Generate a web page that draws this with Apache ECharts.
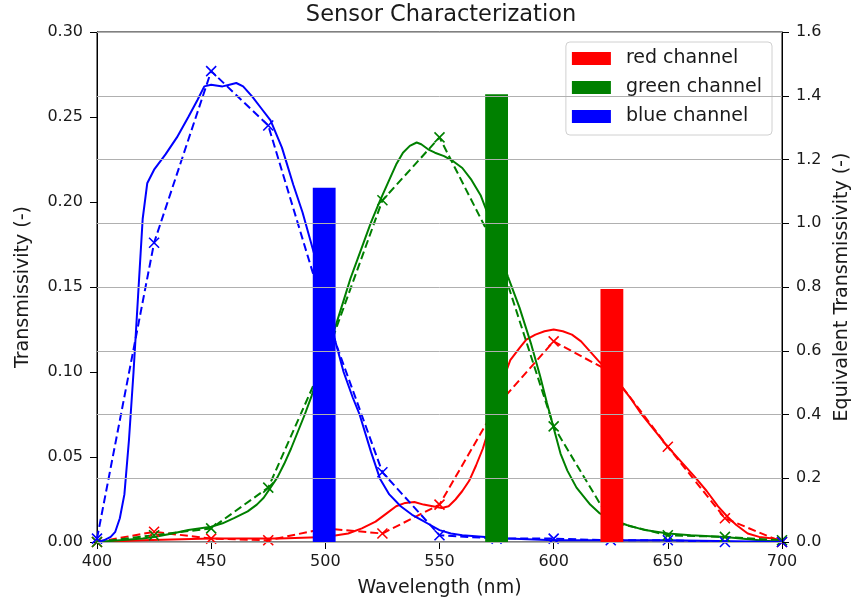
<!DOCTYPE html>
<html>
<head>
<meta charset="utf-8">
<script src="https://cdn.jsdelivr.net/npm/echarts@6/dist/echarts.min.js"></script>
<style>
html,body{margin:0;padding:0;background:#fff;overflow:hidden;}
#chart{width:854px;height:609px;}
</style>
</head>
<body>
<div id="chart"></div>
<script>
// ---- data ----
var markerWavelengths = [400, 425, 450, 475, 500, 525, 550, 575, 600, 625, 650, 675, 700];
var redSampled   = [0.000, 0.006, 0.002, 0.001, 0.008, 0.005, 0.022, 0.080, 0.118, 0.100, 0.056, 0.014, 0.000];
var greenSampled = [0.000, 0.004, 0.008, 0.032, 0.108, 0.201, 0.238, 0.172, 0.068, 0.012, 0.004, 0.003, 0.001];
var blueSampled  = [0.002, 0.176, 0.277, 0.245, 0.134, 0.041, 0.004, 0.002, 0.002, 0.001, 0.001, 0.000, 0.000];

var blueWl = [400,403,406,408,410,412,414,416,418,420,422,425,430,435,440,444,447,450,455,458,461,464,468,472,476,481,486,490,495,500,504,508,512,515,520,524,528,533,538,542,546,550,555,560,570,580,600,650,700];
var blueCurve = [0.000,0.001,0.003,0.006,0.014,0.028,0.060,0.100,0.145,0.190,0.211,0.219,0.228,0.238,0.250,0.260,0.268,0.269,0.268,0.269,0.270,0.268,0.262,0.255,0.248,0.232,0.210,0.194,0.170,0.143,0.120,0.100,0.085,0.075,0.053,0.037,0.028,0.021,0.016,0.013,0.010,0.007,0.005,0.004,0.003,0.002,0.001,0.001,0.000];

var greenWl = [400,410,420,425,433,440,450,455,460,466,470,473,476,479,482,485,488,491,494,497,500,504,508,511,514,517,520,524,528,531,534,537,540,542,545,548,552,556,560,564,568,572,576,580,585,590,594,597,600,603,606,610,616,620,626,632,640,650,660,675,690,700];
var greenCurve = [0.000,0.001,0.002,0.003,0.005,0.007,0.009,0.011,0.014,0.018,0.022,0.026,0.032,0.038,0.046,0.055,0.065,0.075,0.086,0.098,0.108,0.125,0.142,0.155,0.166,0.177,0.188,0.201,0.213,0.222,0.229,0.233,0.235,0.234,0.231,0.229,0.227,0.224,0.220,0.213,0.204,0.190,0.172,0.156,0.138,0.117,0.098,0.082,0.067,0.052,0.042,0.032,0.022,0.017,0.013,0.010,0.007,0.005,0.004,0.003,0.001,0.000];

var redWl = [400,420,450,480,500,505,510,516,522,527,531,535,539,543,547,551,554,557,560,563,566,569,572,575,578,581,585,588,592,596,600,604,608,612,616,620,625,630,634,638,644,650,656,662,667,672,676,680,685,690,696,700];
var redCurve = [0.000,0.001,0.002,0.002,0.003,0.004,0.005,0.008,0.012,0.017,0.021,0.023,0.0235,0.022,0.021,0.020,0.021,0.025,0.030,0.036,0.045,0.055,0.068,0.082,0.096,0.107,0.114,0.119,0.122,0.124,0.125,0.124,0.122,0.118,0.112,0.106,0.099,0.091,0.084,0.076,0.066,0.056,0.047,0.038,0.030,0.021,0.015,0.010,0.005,0.003,0.002,0.001];

var channelNames = ['red channel', 'green channel', 'blue channel'];
var channelColors = ['#ff0000', '#008000', '#0000ff'];
var barWavelengths = [625.5, 575, 499.5];
var barValues = [0.794, 1.405, 1.111];
var barWidthNm = 10;

var leftTicks = {min: 0, max: 0.30, interval: 0.05};
var rightTicks = {min: 0, max: 1.6, interval: 0.2};
var xTicks = {min: 400, max: 700, interval: 50};

function pairs(xs, ys){ return xs.map(function(x,i){ return [x, ys[i]]; }); }

var crossPath = 'path://M0,0L10,10M10,0L0,10';
var txt = '#1a1a1a';
var fontFam = 'DejaVu Sans';

var series = [];
var curves = [[redWl, redCurve],[greenWl, greenCurve],[blueWl, blueCurve]];
var sampled = [redSampled, greenSampled, blueSampled];
for (var i = 0; i < 3; i++) {
  series.push({
    type: 'line', name: channelNames[i] + ' curve', xAxisIndex: 0, yAxisIndex: 0,
    data: pairs(curves[i][0], curves[i][1]), showSymbol: false, symbol: 'none',
    lineStyle: {color: channelColors[i], width: 2}, z: 2, silent: true, animation: false
  });
  series.push({
    type: 'line', name: channelNames[i] + ' sampled', xAxisIndex: 0, yAxisIndex: 0,
    data: pairs(markerWavelengths, sampled[i]), symbol: crossPath, symbolSize: 10,
    showSymbol: true,
    itemStyle: {color: 'rgba(0,0,0,0)', borderColor: channelColors[i], borderWidth: 1.6},
    lineStyle: {color: channelColors[i], width: 2, type: [8, 4]}, z: 2, silent: true, animation: false
  });
}
function makeBarRenderer(color) {
  return function(params, api) {
    var x = api.value(0), v = api.value(1);
    var base = api.coord([x, 0]);
    var top = api.coord([x, v]);
    var w = api.size([barWidthNm, 0])[0];
    return {
      type: 'rect',
      shape: {x: base[0] - w / 2, y: top[1], width: w, height: base[1] - top[1]},
      style: {fill: color}
    };
  };
}
for (var j = 0; j < 3; j++) {
  series.push({
    type: 'custom', name: channelNames[j], xAxisIndex: 0, yAxisIndex: 1,
    data: [[barWavelengths[j], barValues[j]]],
    renderItem: makeBarRenderer(channelColors[j]),
    itemStyle: {color: channelColors[j]}, z: 3, animation: false,
    encode: {x: 0, y: 1}
  });
}

var chart = echarts.init(document.getElementById('chart'), null, {renderer: 'canvas'});
chart.setOption({
  animation: false,
  backgroundColor: '#ffffff',
  title: {
    text: 'Sensor Characterization', left: 436, top: -1, textAlign: 'center',
    textStyle: {fontFamily: fontFam, fontSize: 22.5, fontWeight: 'normal', color: txt}
  },
  grid: {left: 97, right: 72, top: 32, bottom: 67, containLabel: false, outerBoundsMode: 'none',
    show: true, borderColor: '#000', borderWidth: 1, backgroundColor: 'transparent'},
  legend: {
    data: channelNames, orient: 'vertical', right: 82, top: 42,
    icon: 'rect', itemWidth: 39, itemHeight: 13, itemGap: 10,
    padding: [7, 10, 9, 6],
    borderColor: '#d0d0d0', borderWidth: 1, borderRadius: 4,
    backgroundColor: 'rgba(255,255,255,0.8)',
    textStyle: {fontFamily: fontFam, fontSize: 19, color: txt, padding: [0, 0, 0, 10]}
  },
  xAxis: {
    type: 'value', min: xTicks.min, max: xTicks.max, interval: xTicks.interval,
    name: 'Wavelength (nm)', nameLocation: 'middle', nameGap: 37,
    nameTextStyle: {fontFamily: fontFam, fontSize: 19, color: txt},
    axisLine: {show: true, onZero: false, lineStyle: {color: '#000', width: 1}},
    axisTick: {show: true, length: 7, lineStyle: {color: '#000'}},
    axisLabel: {fontFamily: fontFam, fontSize: 16, color: txt, margin: 12},
    splitLine: {show: false}
  },
  yAxis: [{
    type: 'value', position: 'left', min: leftTicks.min, max: leftTicks.max, interval: leftTicks.interval,
    name: 'Transmissivity (-)', nameLocation: 'middle', nameGap: 64, nameRotate: 90,
    nameTextStyle: {fontFamily: fontFam, fontSize: 19, color: txt},
    axisLine: {show: true, lineStyle: {color: '#000'}},
    axisTick: {show: true, length: 7, lineStyle: {color: '#000'}},
    axisLabel: {fontFamily: fontFam, fontSize: 16, color: txt, margin: 14,
      formatter: function(v){ return v.toFixed(2); }},
    splitLine: {show: false}
  }, {
    type: 'value', position: 'right', min: rightTicks.min, max: rightTicks.max, interval: rightTicks.interval,
    name: 'Equivalent Transmissivity (-)', nameLocation: 'middle', nameGap: 48, nameRotate: 90,
    nameTextStyle: {fontFamily: fontFam, fontSize: 19, color: txt},
    z: 10,
    axisLine: {show: true, lineStyle: {color: '#000'}},
    axisTick: {show: true, length: 7, lineStyle: {color: '#000'}},
    axisLabel: {fontFamily: fontFam, fontSize: 16, color: txt, margin: 14,
      formatter: function(v){ return v.toFixed(1); }},
    splitLine: {show: true, lineStyle: {color: '#b0b0b0', width: 1}}
  }],
  series: series
});
</script>
</body>
</html>
